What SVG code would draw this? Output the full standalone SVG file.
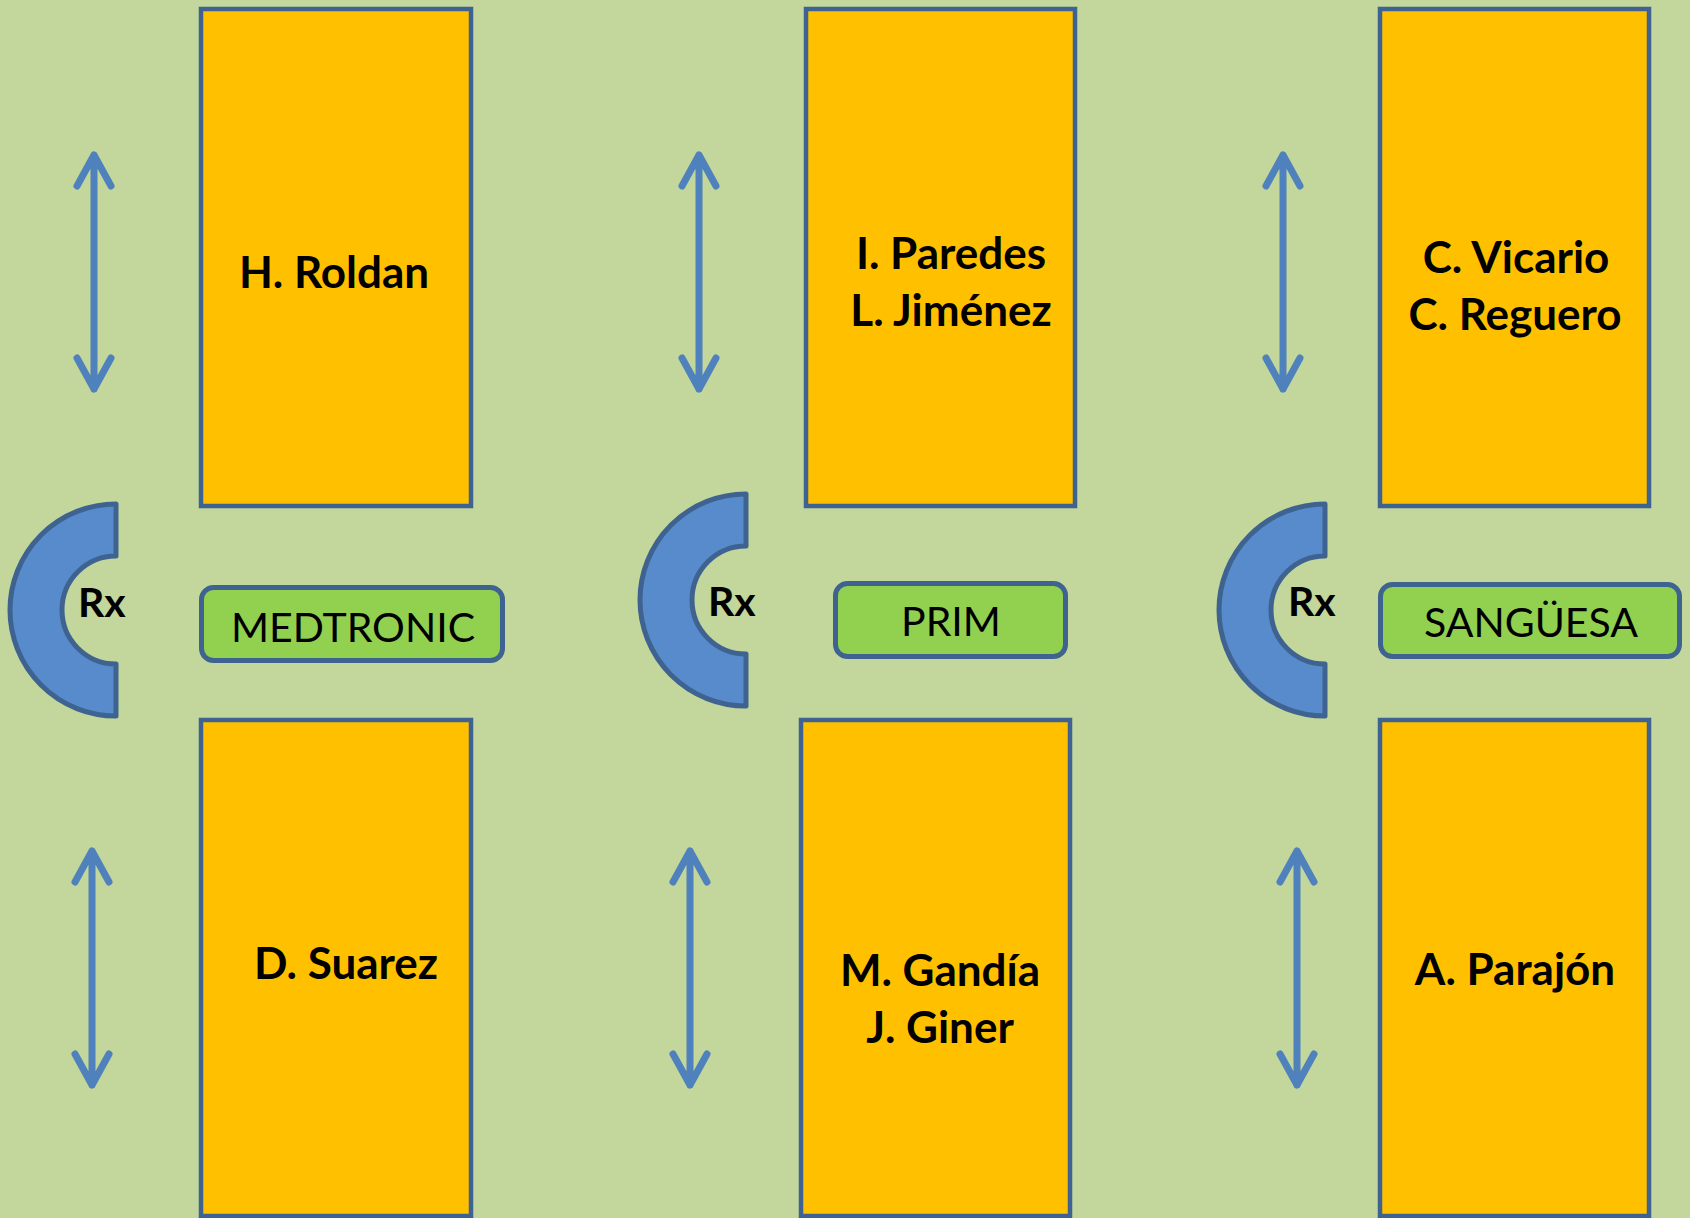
<svg xmlns="http://www.w3.org/2000/svg" width="1690" height="1218" viewBox="0 0 1690 1218">
<style>
.bg{fill:#C3D69B}
.room{fill:#FFC000;stroke:#3F6391;stroke-width:4.5}
.tag{fill:#92D050;stroke:#3F6391;stroke-width:5}
.rx{fill:#588BCB;stroke:#3F6391;stroke-width:5;stroke-linejoin:round}
.arr{fill:none;stroke:#4F81BD;stroke-width:7;stroke-linecap:round;stroke-linejoin:round}
.name{font-family:Lato,"Open Sans","Liberation Sans",sans-serif;font-weight:bold;font-size:44px;fill:#000;text-anchor:middle}
.lab{font-family:Lato,"Open Sans","Liberation Sans",sans-serif;font-size:41px;fill:#000;text-anchor:middle}
.rxt{font-family:Lato,"Open Sans","Liberation Sans",sans-serif;font-weight:bold;font-size:41px;fill:#000}
</style>
<rect class="bg" x="0" y="0" width="1690" height="1218"/>

<g id="room-roldan"><rect class="room" x="201" y="9" width="270" height="497"/><text class="name" x="334" y="288">H. Roldan</text></g>
<g id="room-paredes"><rect class="room" x="806" y="9" width="269" height="497"/><text class="name" x="951" y="269">I. Paredes</text><text class="name" x="951" y="326">L. Jiménez</text></g>
<g id="room-vicario"><rect class="room" x="1380" y="9" width="269" height="497"/><text class="name" x="1516" y="273">C. Vicario</text><text class="name" x="1515" y="330">C. Reguero</text></g>
<g id="room-suarez"><rect class="room" x="201" y="720" width="270" height="496"/><text class="name" x="346" y="979">D. Suarez</text></g>
<g id="room-gandia"><rect class="room" x="801" y="720" width="269" height="496"/><text class="name" x="940" y="986">M. Gandía</text><text class="name" x="940" y="1043">J. Giner</text></g>
<g id="room-parajon"><rect class="room" x="1380" y="720" width="269" height="496"/><text class="name" x="1515" y="985">A. Parajón</text></g>

<g id="rx-1"><path class="rx" d="M116,504 A106,106 0 0 0 116,716 L116,664 A54,54 0 0 1 116,556 Z"/><text class="rxt" x="78" y="617">Rx</text></g>
<g id="rx-2"><path class="rx" d="M746,494 A106,106 0 0 0 746,706 L746,654 A54,54 0 0 1 746,546 Z"/><text class="rxt" x="708" y="616">Rx</text></g>
<g id="rx-3"><path class="rx" d="M1325,504 A106,106 0 0 0 1325,716 L1325,664 A54,54 0 0 1 1325,556 Z"/><text class="rxt" x="1288" y="616">Rx</text></g>

<g id="tag-medtronic"><rect class="tag" x="201.5" y="587.5" width="301" height="73" rx="12"/><text class="lab" x="353" y="642">MEDTRONIC</text></g>
<g id="tag-prim"><rect class="tag" x="835.5" y="583.5" width="230" height="73" rx="12"/><text class="lab" x="951" y="636">PRIM</text></g>
<g id="tag-sanguesa"><rect class="tag" x="1380.5" y="584.5" width="299" height="72" rx="12"/><text class="lab" x="1531" y="637">SANGÜESA</text></g>

<g id="connectors">
<path class="arr" d="M94,155 V389 M77,186 L94,155 L111,186 M77,358 L94,389 L111,358"/>
<path class="arr" d="M699,155 V389 M682,186 L699,155 L716,186 M682,358 L699,389 L716,358"/>
<path class="arr" d="M1283,155 V389 M1266,186 L1283,155 L1300,186 M1266,358 L1283,389 L1300,358"/>
<path class="arr" d="M92,851 V1085 M75,882 L92,851 L109,882 M75,1054 L92,1085 L109,1054"/>
<path class="arr" d="M690,851 V1085 M673,882 L690,851 L707,882 M673,1054 L690,1085 L707,1054"/>
<path class="arr" d="M1297,851 V1085 M1280,882 L1297,851 L1314,882 M1280,1054 L1297,1085 L1314,1054"/>
</g>
</svg>
